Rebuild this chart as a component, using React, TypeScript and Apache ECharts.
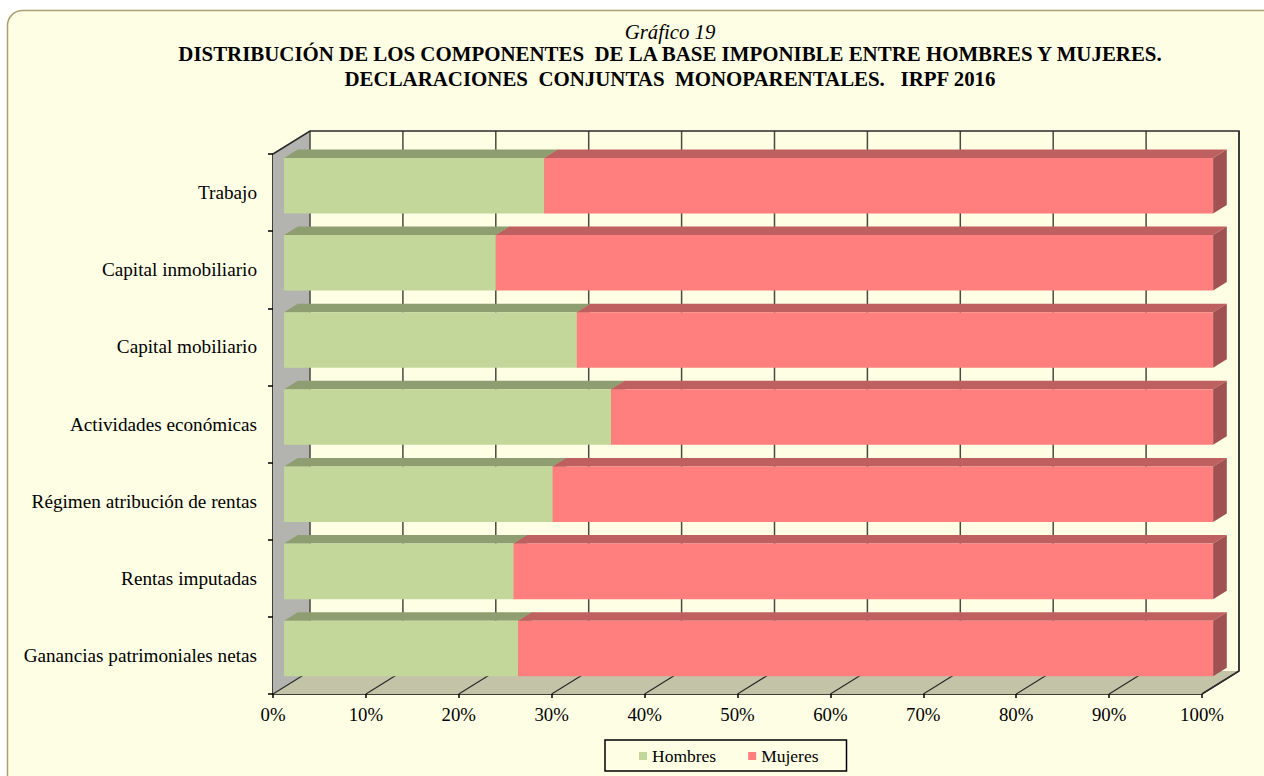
import React, { useEffect, useRef } from 'react';
import * as echarts from 'echarts';

const categories = [
  'Trabajo',
  'Capital inmobiliario',
  'Capital mobiliario',
  'Actividades económicas',
  'Régimen atribución de rentas',
  'Rentas imputadas',
  'Ganancias patrimoniales netas',
];
const hombres = [28.0, 22.8, 31.5, 35.2, 28.9, 24.7, 25.2];
const mujeres = [72.0, 77.2, 68.5, 64.8, 71.1, 75.3, 74.8];
const xTicks = [0, 10, 20, 30, 40, 50, 60, 70, 80, 90, 100];

const titleLines = [
  'Gráfico 19',
  'DISTRIBUCIÓN DE LOS COMPONENTES  DE LA BASE IMPONIBLE ENTRE HOMBRES Y MUJERES.',
  'DECLARACIONES  CONJUNTAS  MONOPARENTALES.   IRPF 2016',
];

const FONT = "'Liberation Serif', 'Times New Roman', serif";
const BG = '#FEFEE4';
const DX = 37;
const DY = -23;
const F0 = 0.3;
const FD = 0.37;
const BAR_RATIO = 0.72;

function makeBarRender(front: string, top: string, side: string) {
  return (params: any, api: any) => {
    const s = api.value(0);
    const e = api.value(1);
    const c = api.value(2);
    const p0 = api.coord([s, c]);
    const p1 = api.coord([e, c]);
    const band = api.size([0, 1])[1];
    const h = band * BAR_RATIO;
    const ox = DX * F0, oy = DY * F0, dx = DX * FD, dy = DY * FD;
    const xa = p0[0] + ox, xb = p1[0] + ox, cy = p0[1] + oy;
    const t = cy - h / 2, b = cy + h / 2;
    return {
      type: 'group',
      children: [
        { type: 'polygon', shape: { points: [[xa, t], [xb, t], [xb + dx, t + dy], [xa + dx, t + dy]] }, style: { fill: top } },
        { type: 'polygon', shape: { points: [[xb, t], [xb + dx, t + dy], [xb + dx, b + dy], [xb, b]] }, style: { fill: side } },
        { type: 'rect', shape: { x: xa, y: t, width: xb - xa, height: b - t }, style: { fill: front } },
      ],
    };
  };
}

function wallsRender(params: any, api: any) {
  const cs = params.coordSys;
  const x0 = cs.x, y0 = cs.y, x1 = cs.x + cs.width, y1 = cs.y + cs.height;
  const children: any[] = [
    { type: 'polygon', shape: { points: [[x0, y0], [x0 + DX, y0 + DY], [x0 + DX, y1 + DY], [x0, y1]] }, style: { fill: '#B3B3B0' } },
    { type: 'polygon', shape: { points: [[x0, y1], [x0 + DX, y1 + DY], [x1 + DX, y1 + DY], [x1, y1]] }, style: { fill: '#C3C3A7' } },
  ];
  xTicks.forEach((v) => {
    const x = api.coord([v, 0])[0];
    children.push({ type: 'line', shape: { x1: x + DX, y1: y0 + DY, x2: x + DX, y2: y1 + DY }, style: { stroke: '#4A4A40', lineWidth: 1.5 } });
    children.push({ type: 'line', shape: { x1: x, y1: y1, x2: x + DX, y2: y1 + DY }, style: { stroke: '#2A2A2A', lineWidth: 1.2 } });
  });
  children.push({
    type: 'polyline',
    shape: { points: [[x0, y0], [x0 + DX, y0 + DY], [x1 + DX, y0 + DY], [x1 + DX, y1 + DY], [x1, y1]] },
    style: { stroke: '#2A2A2A', lineWidth: 1.5, fill: null },
  });
  return { type: 'group', children };
}

export default function App() {
  const ref = useRef<HTMLDivElement>(null);
  useEffect(() => {
    const chart = echarts.init(ref.current!, null, { renderer: 'svg' });
    const hData = hombres.map((v, i) => [0, v, i]);
    const mData = mujeres.map((v, i) => [hombres[i], hombres[i] + v, i]);
    const option: any = {
      animation: false,
      backgroundColor: '#FFFFFF',
      textStyle: { fontFamily: FONT },
      graphic: [
        {
          type: 'rect', z: -10, silent: true,
          shape: { x: 7.5, y: 10.5, width: 1320, height: 820, r: 15 },
          style: { fill: BG, stroke: '#A8A070', lineWidth: 1.5 },
        },
        { type: 'text', x: 670, y: 31, style: { text: titleLines[0], font: `italic 20.8px ${FONT}`, fill: '#000', textAlign: 'center', textVerticalAlign: 'middle' } },
        { type: 'text', x: 670, y: 54, style: { text: titleLines[1], font: `bold 20.9px ${FONT}`, fill: '#000', textAlign: 'center', textVerticalAlign: 'middle' } },
        { type: 'text', x: 670, y: 79, style: { text: titleLines[2], font: `bold 20.9px ${FONT}`, fill: '#000', textAlign: 'center', textVerticalAlign: 'middle' } },
      ],
      grid: { left: 273, right: 62, top: 154, bottom: 82, containLabel: false },
      legend: {
        data: ['Hombres', 'Mujeres'],
        left: 605, top: 740,
        icon: 'rect', itemWidth: 8, itemHeight: 8, itemGap: 32,
        padding: [7, 28, 6, 34],
        borderColor: '#000', borderWidth: 1.5,
        textStyle: { fontFamily: FONT, fontSize: 17.5, color: '#000' },
      },
      xAxis: {
        type: 'value', min: 0, max: 100, interval: 10,
        axisLine: { show: true, lineStyle: { color: '#000', width: 1.5 } },
        axisTick: { show: true, length: 4, lineStyle: { color: '#000', width: 1.5 } },
        axisLabel: { formatter: '{value}%', fontFamily: FONT, fontSize: 18.8, color: '#000', margin: 11 },
        splitLine: { show: false },
      },
      yAxis: {
        type: 'category', data: categories, inverse: true,
        axisLine: { show: true, lineStyle: { color: '#000', width: 1.5 } },
        axisTick: { show: true, length: 5, lineStyle: { color: '#000', width: 1.5 } },
        axisLabel: { fontFamily: FONT, fontSize: 19.2, color: '#000', margin: 16 },
        splitLine: { show: false },
      },
      series: [
        {
          type: 'custom', name: 'walls', silent: true, z: 1,
          renderItem: wallsRender, data: [[0, 0]], encode: { x: 0, y: 1 },
        },
        {
          type: 'custom', name: 'Hombres', z: 2,
          itemStyle: { color: '#C4D79B' },
          renderItem: makeBarRender('#C4D79B', '#8F9E70', '#7E8C60'),
          data: hData, encode: { x: [0, 1], y: 2 },
        },
        {
          type: 'custom', name: 'Mujeres', z: 3,
          itemStyle: { color: '#FF7F7F' },
          renderItem: makeBarRender('#FF7F7F', '#BF6060', '#A05252'),
          data: mData, encode: { x: [0, 1], y: 2 },
        },
      ],
    };
    chart.setOption(option);
    return () => chart.dispose();
  }, []);
  return <div ref={ref} style={{ position: 'absolute', left: 0, top: 0, width: 1264, height: 776 }} />;
}
